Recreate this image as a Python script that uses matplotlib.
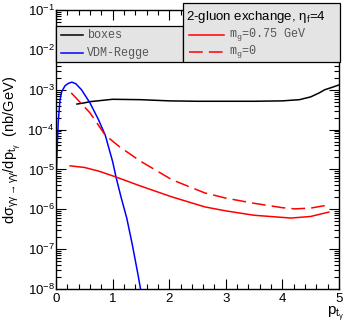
import matplotlib
matplotlib.use('Agg')
import matplotlib.pyplot as plt
import numpy as np
from matplotlib.patches import Rectangle
from matplotlib.lines import Line2D
from matplotlib.ticker import LogLocator, NullFormatter

plt.rcParams['font.family'] = ['Liberation Sans', 'DejaVu Sans']
plt.rcParams['mathtext.fontset'] = 'custom'
plt.rcParams['mathtext.rm'] = 'Liberation Sans'
plt.rcParams['mathtext.it'] = 'Liberation Sans'
plt.rcParams['mathtext.default'] = 'regular'

# values (pt in GeV, log10 of dsigma/dpt in nb/GeV)
boxes_pt = [0.37, 0.5, 0.6, 0.8, 1.0, 1.5, 2.0, 2.5, 3.0, 3.5, 4.0, 4.3, 4.5, 4.65, 4.75, 4.9, 5.0]
boxes_log = [-3.36, -3.33, -3.30, -3.27, -3.24, -3.25, -3.28, -3.29, -3.29, -3.29, -3.28, -3.25, -3.18, -3.08, -3.0, -2.93, -2.88]

vdm_pt = [0.01, 0.02, 0.04, 0.07, 0.1, 0.16, 0.22, 0.28, 0.35, 0.45, 0.6, 0.75, 0.87, 1.0, 1.06, 1.15, 1.25, 1.35, 1.45, 1.5]
vdm_log = [-5.0, -4.5, -3.8, -3.26, -3.05, -2.9, -2.84, -2.81, -2.85, -3.0, -3.33, -3.75, -4.14, -4.8, -5.19, -5.7, -6.22, -6.9, -7.65, -8.05]

gl075_pt = [0.25, 0.5, 0.75, 1.06, 1.5, 2.05, 2.63, 3.0, 3.5, 4.15, 4.5, 4.82]
gl075_log = [-4.91, -4.95, -5.04, -5.19, -5.42, -5.69, -5.94, -6.04, -6.15, -6.22, -6.18, -6.07]

gl0_pt = [0.27, 0.6, 0.87, 1.13, 1.5, 2.05, 2.63, 3.0, 3.5, 4.0, 4.22, 4.5, 4.82]
gl0_log = [-3.08, -3.58, -4.14, -4.44, -4.8, -5.26, -5.59, -5.72, -5.85, -5.96, -5.99, -5.97, -5.89]

fig = plt.figure(figsize=(3.44, 3.27), dpi=100)
ax = fig.add_axes([56/344, 1-289/327, 283/344, 279/327])

ax.plot(boxes_pt, 10**np.array(boxes_log), color='black', lw=1.1)
ax.plot(vdm_pt, 10**np.array(vdm_log), color='blue', lw=1.1)
ax.plot(gl075_pt, 10**np.array(gl075_log), color='red', lw=1.1)
ax.plot(gl0_pt, 10**np.array(gl0_log), color='red', lw=1.1, dashes=(9, 4))

ax.set_yscale('log')
ax.set_xlim(0, 5)
ax.set_ylim(1e-8, 1e-1)
ax.yaxis.set_major_locator(LogLocator(base=10, numticks=20))
ax.yaxis.set_minor_locator(LogLocator(base=10, subs=np.arange(2, 10), numticks=100))
ax.yaxis.set_minor_formatter(NullFormatter())
ax.set_xticks([0, 1, 2, 3, 4, 5])
ax.set_xticks(np.arange(0, 5.01, 0.2), minor=True)
ax.tick_params(which='both', direction='in', top=True, right=True, labelsize=9.5, width=0.8)
ax.tick_params(which='major', length=7)
ax.tick_params(which='minor', length=3.5)
ax.tick_params(axis='x', pad=3)
ax.tick_params(axis='y', pad=1)
for s in ax.spines.values():
    s.set_linewidth(1.0)

ax.set_ylabel(r'd$\sigma_{\gamma\gamma\rightarrow\gamma\gamma}$/dp$_{t_\gamma}$  (nb/GeV)', fontsize=10.5, labelpad=3)
fig.text(327/344, 1-314/327, r'p$_{t_\gamma}$', fontsize=11, ha='left', va='center')
ax.text(0.95, 0.86, 'W=10 GeV', transform=ax.transAxes, ha='right', va='center', fontsize=9.5)

# legend boxes
W, H = 344.0, 327.0
def fx(px):
    return px / W
def fy(py):
    return 1 - py / H

fig.patches.append(Rectangle((fx(56), fy(62)), fx(183) - fx(56), fy(26) - fy(62), transform=fig.transFigure,
                             facecolor='#e4e4e4', edgecolor='black', lw=0.9, zorder=5))
fig.patches.append(Rectangle((fx(183), fy(62)), fx(340) - fx(183), fy(3) - fy(62), transform=fig.transFigure,
                             facecolor='#e4e4e4', edgecolor='black', lw=0.9, zorder=5))

mono = 'Liberation Mono'
rows = [(35, 'black', '-', 'boxes'), (53, 'blue', '-', 'VDM-Regge')]
for py, c, ls, lab in rows:
    fig.lines.append(Line2D([fx(61), fx(83)], [fy(py), fy(py)], color=c, lw=1.1, transform=fig.transFigure, zorder=6))
    fig.text(fx(87), fy(py), lab, family=mono, color='#555555', fontsize=8.5, va='center', zorder=6)

fig.text(fx(186), fy(17), r'2-gluon exchange, $\eta_f$=4', fontsize=9.5, va='center', zorder=6)
fig.lines.append(Line2D([fx(189), fx(224)], [fy(35), fy(35)], color='red', lw=1.1, transform=fig.transFigure, zorder=6))
fig.lines.append(Line2D([fx(189), fx(224)], [fy(52), fy(52)], color='red', lw=1.1, dashes=(9, 4),
                        transform=fig.transFigure, zorder=6))
fig.text(fx(229), fy(35), r'm$_g$=0.75 GeV', family=mono, color='#555555', fontsize=8.5, va='center', zorder=6)
fig.text(fx(229), fy(52), r'm$_g$=0', family=mono, color='#555555', fontsize=8.5, va='center', zorder=6)

fig.savefig('out.png', dpi=100)
